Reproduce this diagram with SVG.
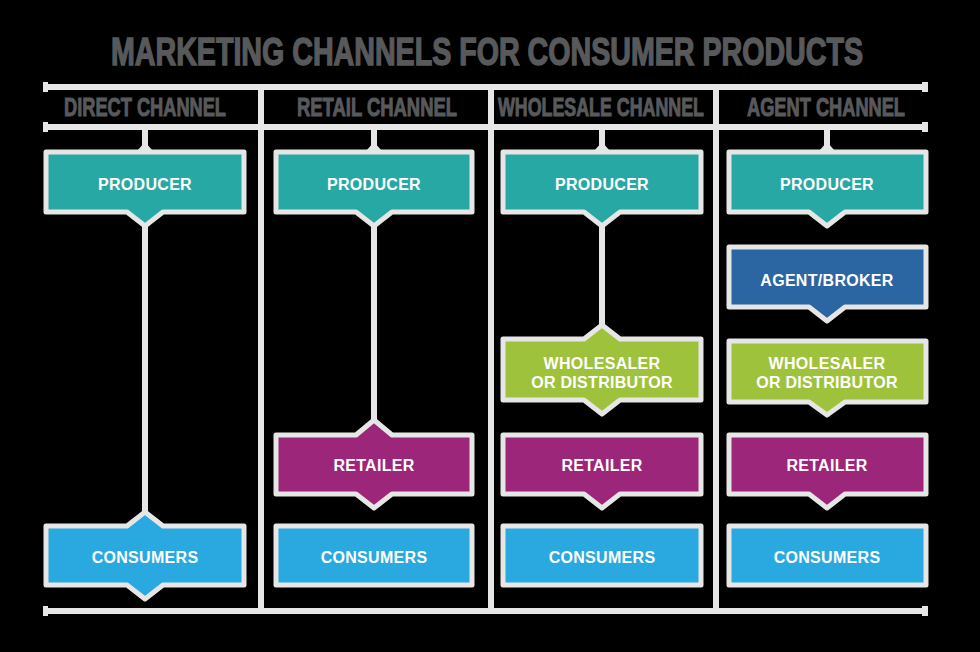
<svg xmlns="http://www.w3.org/2000/svg" width="980" height="652" viewBox="0 0 980 652">
<style>
.bg{fill:#000}
.frame{stroke:#e6e6e6;stroke-width:6;fill:none}
.cap{fill:#e6e6e6}
.title{font-family:"Liberation Sans",Arial,sans-serif;font-weight:bold;fill:#58595b;stroke:#58595b;text-anchor:middle}
.box{stroke:#e6e6e6;stroke-width:5;stroke-linejoin:round}
.lbl{font-family:"Liberation Sans",Arial,sans-serif;font-weight:bold;font-size:16px;letter-spacing:0.3px;fill:#fff;text-anchor:middle}
.prod{fill:#28a8a4}
.agent{fill:#2b65a2}
.whole{fill:#9fc23c}
.ret{fill:#9c2679}
.cons{fill:#29a9e0}
.stem{stroke:#e6e6e6;stroke-width:6;fill:none}
</style>
<rect class="bg" x="0" y="0" width="980" height="652"/>
<g id="title" transform="translate(487,65) scale(1,1.45)">
<text class="title" x="0" y="0" font-size="27" stroke-width="1" textLength="752" lengthAdjust="spacingAndGlyphs">MARKETING CHANNELS FOR CONSUMER PRODUCTS</text>
</g>
<g id="frame">
<line class="frame" x1="45" y1="87" x2="926" y2="87"/>
<line class="frame" x1="45" y1="127" x2="926" y2="127"/>
<line class="frame" x1="45" y1="611" x2="926" y2="611"/>
<line class="frame" x1="261" y1="87" x2="261" y2="611"/>
<line class="frame" x1="491" y1="87" x2="491" y2="611"/>
<line class="frame" x1="716" y1="87" x2="716" y2="611"/>
<rect class="cap" x="43" y="82" width="5" height="10"/>
<rect class="cap" x="922" y="82" width="6" height="10"/>
<rect class="cap" x="43" y="122" width="5" height="10"/>
<rect class="cap" x="922" y="122" width="6" height="10"/>
<rect class="cap" x="43" y="606" width="5" height="10"/>
<rect class="cap" x="922" y="606" width="6" height="10"/>
</g>
<g id="headers">
<g transform="translate(145,116) scale(1,1.4)"><text class="title" x="0" y="0" font-size="18" stroke-width="0.7" textLength="162" lengthAdjust="spacingAndGlyphs">DIRECT CHANNEL</text></g>
<g transform="translate(377,116) scale(1,1.4)"><text class="title" x="0" y="0" font-size="18" stroke-width="0.7" textLength="160" lengthAdjust="spacingAndGlyphs">RETAIL CHANNEL</text></g>
<g transform="translate(601,116) scale(1,1.4)"><text class="title" x="0" y="0" font-size="18" stroke-width="0.7" textLength="206" lengthAdjust="spacingAndGlyphs">WHOLESALE CHANNEL</text></g>
<g transform="translate(826,116) scale(1,1.4)"><text class="title" x="0" y="0" font-size="18" stroke-width="0.7" textLength="158" lengthAdjust="spacingAndGlyphs">AGENT CHANNEL</text></g>
</g>
<g id="connectors">
<line class="stem" x1="145" y1="127" x2="145" y2="152"/>
<line class="stem" x1="374" y1="127" x2="374" y2="152"/>
<line class="stem" x1="602" y1="127" x2="602" y2="152"/>
<line class="stem" x1="827" y1="127" x2="827" y2="152"/>
<polygon class="cap" points="137,151 145,142 153,151"/>
<polygon class="cap" points="366,151 374,142 382,151"/>
<polygon class="cap" points="594,151 602,142 610,151"/>
<polygon class="cap" points="819,151 827,142 835,151"/>
<line class="stem" x1="145" y1="220" x2="145" y2="516"/>
<line class="stem" x1="374" y1="220" x2="374" y2="424"/>
<line class="stem" x1="602" y1="220" x2="602" y2="329"/>
</g>
<g id="direct-producer">
<path class="box prod" d="M46,152 H244 V212 H163 L145,226 L127,212 H46 Z"/>
<text class="lbl" x="145" y="190">PRODUCER</text>
</g>
<g id="direct-consumers">
<path class="box cons" d="M46,526 H127 L145,512 L163,526 H244 V585 H163 L145,599 L127,585 H46 Z"/>
<text class="lbl" x="145" y="563">CONSUMERS</text>
</g>
<g id="retail-producer">
<path class="box prod" d="M276,152 H472 V212 H392 L374,226 L356,212 H276 Z"/>
<text class="lbl" x="374" y="190">PRODUCER</text>
</g>
<g id="retail-retailer">
<path class="box ret" d="M276,435 H356 L374,420 L392,435 H472 V494 H392 L374,508 L356,494 H276 Z"/>
<text class="lbl" x="374" y="471">RETAILER</text>
</g>
<g id="retail-consumers">
<path class="box cons" d="M276,526 H472 V585 H276 Z"/>
<text class="lbl" x="374" y="563">CONSUMERS</text>
</g>
<g id="wholesale-producer">
<path class="box prod" d="M503,152 H701 V212 H620 L602,226 L584,212 H503 Z"/>
<text class="lbl" x="602" y="190">PRODUCER</text>
</g>
<g id="wholesale-wholesaler">
<path class="box whole" d="M503,339 H584 L602,325 L620,339 H701 V400 H620 L602,414 L584,400 H503 Z"/>
<text class="lbl" x="602" y="369">WHOLESALER</text>
<text class="lbl" x="602" y="388">OR DISTRIBUTOR</text>
</g>
<g id="wholesale-retailer">
<path class="box ret" d="M503,435 H701 V494 H620 L602,508 L584,494 H503 Z"/>
<text class="lbl" x="602" y="471">RETAILER</text>
</g>
<g id="wholesale-consumers">
<path class="box cons" d="M503,526 H701 V585 H503 Z"/>
<text class="lbl" x="602" y="563">CONSUMERS</text>
</g>
<g id="agent-producer">
<path class="box prod" d="M729,152 H926 V212 H845 L827,226 L809,212 H729 Z"/>
<text class="lbl" x="827" y="190">PRODUCER</text>
</g>
<g id="agent-broker">
<path class="box agent" d="M729,247 H926 V307 H845 L827,321 L809,307 H729 Z"/>
<text class="lbl" x="827" y="286">AGENT/BROKER</text>
</g>
<g id="agent-wholesaler">
<path class="box whole" d="M729,341 H926 V402 H845 L827,415 L809,402 H729 Z"/>
<text class="lbl" x="827" y="369">WHOLESALER</text>
<text class="lbl" x="827" y="388">OR DISTRIBUTOR</text>
</g>
<g id="agent-retailer">
<path class="box ret" d="M729,435 H926 V494 H845 L827,508 L809,494 H729 Z"/>
<text class="lbl" x="827" y="471">RETAILER</text>
</g>
<g id="agent-consumers">
<path class="box cons" d="M729,526 H926 V585 H729 Z"/>
<text class="lbl" x="827" y="563">CONSUMERS</text>
</g>
</svg>
